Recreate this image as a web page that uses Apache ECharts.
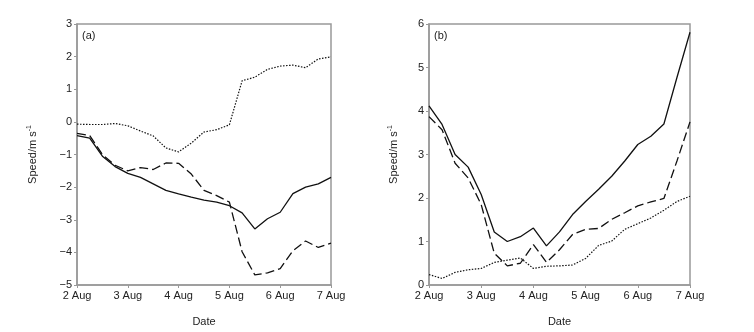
<!DOCTYPE html>
<html><head><meta charset="utf-8">
<script src="https://cdn.jsdelivr.net/npm/echarts@6/dist/echarts.min.js"></script>
<style>html,body{margin:0;padding:0;background:#fff}#c{width:754px;height:332px}</style>
</head><body><div id="c"></div>
<script>
// time in days since 2 Aug 00:00 (6-hourly)
const times = [0,0.25,0.5,0.75,1,1.25,1.5,1.75,2,2.25,2.5,2.75,3,3.25,3.5,3.75,4,4.25,4.5,4.75,5];
const xTickLabels = ['2 Aug','3 Aug','4 Aug','5 Aug','6 Aug','7 Aug'];

// Panel (a)
const aSolid  = [-0.42,-0.5,-1.05,-1.37,-1.58,-1.70,-1.90,-2.10,-2.21,-2.31,-2.40,-2.46,-2.57,-2.79,-3.28,-2.97,-2.77,-2.20,-2.00,-1.90,-1.70];
const aDashed = [-0.35,-0.42,-1.0,-1.33,-1.50,-1.40,-1.46,-1.26,-1.27,-1.60,-2.10,-2.26,-2.46,-3.98,-4.69,-4.63,-4.50,-3.95,-3.65,-3.85,-3.72];
const aDotted = [-0.07,-0.08,-0.08,-0.05,-0.12,-0.28,-0.43,-0.80,-0.92,-0.65,-0.31,-0.24,-0.09,1.26,1.37,1.61,1.71,1.74,1.66,1.93,1.99];

// Panel (b)
const bSolid  = [4.12,3.69,3.0,2.71,2.08,1.22,1.0,1.11,1.31,0.9,1.22,1.62,1.92,2.2,2.5,2.85,3.23,3.42,3.70,4.77,5.81];
const bDashed = [3.87,3.57,2.8,2.46,1.85,0.73,0.44,0.50,0.93,0.52,0.81,1.16,1.28,1.30,1.51,1.66,1.82,1.91,1.99,2.85,3.75];
const bDotted = [0.24,0.15,0.29,0.35,0.38,0.52,0.57,0.62,0.38,0.43,0.44,0.46,0.61,0.91,1.01,1.28,1.41,1.54,1.72,1.92,2.04];

const FONT = 'Liberation Sans, Arial, sans-serif';
const AX = '#999';
const TXT = '#222';

function pairs(ys){ return times.map((t,i)=>[t, ys[i]]); }

function xAxis(gi){
  return {
    type:'value', gridIndex:gi, min:0, max:5, interval:1,
    name:'Date', nameLocation:'middle', nameGap:31,
    nameTextStyle:{fontFamily:FONT,fontSize:11,color:TXT},
    axisLine:{show:true,onZero:false,lineStyle:{color:AX,width:1.5}},
    axisTick:{show:true,inside:false,length:3,lineStyle:{color:AX,width:1}},
    axisLabel:{fontFamily:FONT,fontSize:11,color:TXT,margin:5,formatter:v=>xTickLabels[Math.round(v)]},
    splitLine:{show:false}
  };
}
function yAxis(gi,min,max,gap){
  return {
    type:'value', gridIndex:gi, min:min, max:max, interval:1,
    name:'{m|Speed/m s}{s|-1}', nameLocation:'middle', nameGap:gap, nameRotate:90,
    nameTextStyle:{fontFamily:FONT,fontSize:11,color:TXT,
      rich:{m:{fontFamily:FONT,fontSize:11,color:TXT},
            s:{fontFamily:FONT,fontSize:7,color:TXT,padding:[0,0,7,0]}}},
    axisLine:{show:true,onZero:false,lineStyle:{color:AX,width:1.5}},
    axisTick:{show:true,inside:false,length:3,lineStyle:{color:AX,width:1}},
    axisLabel:{fontFamily:FONT,fontSize:11,color:TXT,margin:5,formatter:v=>(v<0?'\u2212'+Math.abs(v):String(v))},
    splitLine:{show:false}
  };
}
function line(gi, ys, type){
  let ls = {color:'#111', width:1.3};
  if(type==='dashed'){ ls.type=[9,4]; }
  if(type==='dotted'){ ls.type=[1.5,1.5]; ls.width=1.2; }
  return {type:'line', xAxisIndex:gi, yAxisIndex:gi, data:pairs(ys), symbol:'none',
          lineStyle:ls, animation:false, silent:true};
}

const chart = echarts.init(document.getElementById('c'), null, {renderer:'canvas'});
chart.setOption({
  backgroundColor:'#fff',
  animation:false,
  grid:[
    {left:77, top:24, width:254, height:264, show:true, borderColor:AX, borderWidth:1.5, backgroundColor:'transparent'},
    {left:429, top:24, width:261, height:264, show:true, borderColor:AX, borderWidth:1.5, backgroundColor:'transparent'}
  ],
  xAxis:[xAxis(0), xAxis(1)],
  yAxis:[yAxis(0,-5,3,37), yAxis(1,0,6,28)],
  graphic:[
    {type:'text', left:82, top:30, style:{text:'(a)', font:'11px '+FONT, fill:TXT}},
    {type:'text', left:434, top:30, style:{text:'(b)', font:'11px '+FONT, fill:TXT}}
  ],
  series:[
    line(0,aSolid,'solid'), line(0,aDashed,'dashed'), line(0,aDotted,'dotted'),
    line(1,bSolid,'solid'), line(1,bDashed,'dashed'), line(1,bDotted,'dotted')
  ]
});
</script></body></html>
